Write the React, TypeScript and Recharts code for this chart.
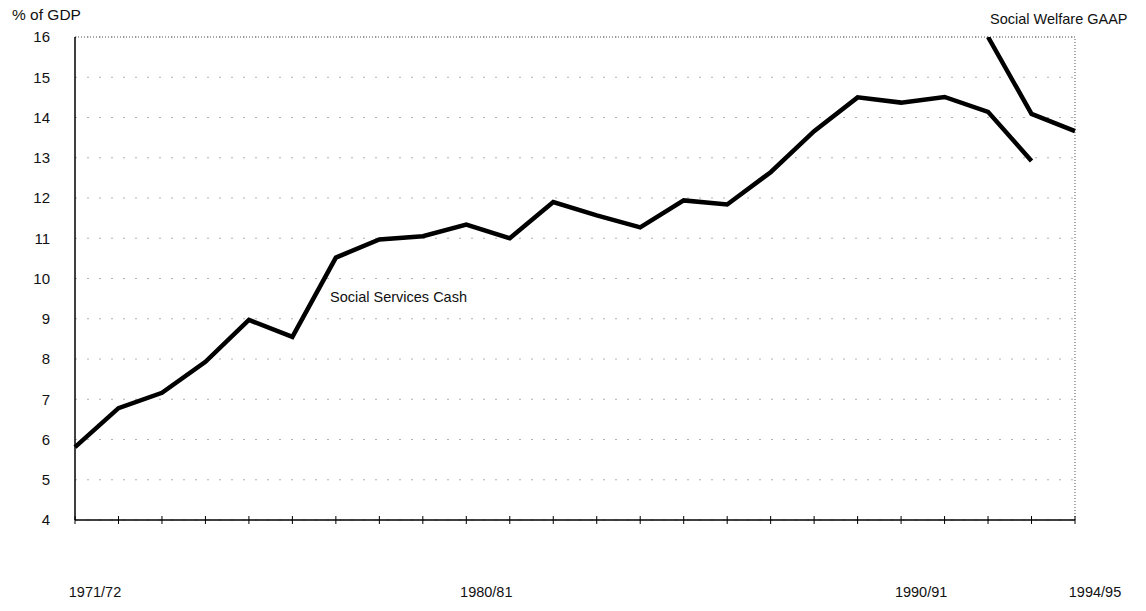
import React from 'react';
import { LineChart, Line, XAxis, YAxis, CartesianGrid, ReferenceLine } from 'recharts';

const years = [
  '1971/72', '1972/73', '1973/74', '1974/75', '1975/76', '1976/77', '1977/78', '1978/79',
  '1979/80', '1980/81', '1981/82', '1982/83', '1983/84', '1984/85', '1985/86', '1986/87',
  '1987/88', '1988/89', '1989/90', '1990/91', '1991/92', '1992/93', '1993/94', '1994/95',
];
const socialServicesCash: (number | null)[] = [
  5.81, 6.78, 7.16, 7.93, 8.97, 8.55, 10.52, 10.97, 11.05, 11.34, 11.0, 11.9,
  11.57, 11.27, 11.94, 11.84, 12.64, 13.66, 14.5, 14.37, 14.51, 14.14, 12.92, null,
];
const socialWelfareGAAP: (number | null)[] = [
  null, null, null, null, null, null, null, null, null, null, null, null,
  null, null, null, null, null, null, null, null, null, 16.0, 14.09, 13.66,
];
const yTicks = [4, 5, 6, 7, 8, 9, 10, 11, 12, 13, 14, 15, 16];
const labelledYears = ['1971/72', '1980/81', '1990/91', '1994/95'];

const data = years.map((y, i) => ({
  year: y,
  cash: socialServicesCash[i],
  gaap: socialWelfareGAAP[i],
}));

const FONT = '"Liberation Sans", Arial, sans-serif';

const XTick = (props: any) => {
  const { x, y, payload } = props;
  const show = labelledYears.includes(payload.value);
  return (
    <g>
      <line x1={x} x2={x} y1={y - 4} y2={y + 4} stroke="#000" strokeWidth={1} />
      {show && (
        <text x={x + 20} y={y + 77} textAnchor="middle" fontSize={14.5} fontFamily={FONT} fill="#111">
          {payload.value}
        </text>
      )}
    </g>
  );
};

export default function App() {
  return (
    <div style={{ position: 'absolute', left: 0, top: 0, width: 1146, height: 611, background: '#fff', fontFamily: FONT }}>
      <LineChart
        width={1146}
        height={611}
        data={data}
        margin={{ top: 37, right: 71, bottom: 31, left: 0 }}
      >
        <CartesianGrid vertical={false} horizontal={true} stroke="#b0b0b0" strokeDasharray="2 10" />
        <ReferenceLine y={16} stroke="#555" strokeDasharray="1 2" />
        <ReferenceLine x="1994/95" stroke="#555" strokeDasharray="1 2" />
        <XAxis
          dataKey="year"
          scale="point"
          padding={{ left: 0, right: 0 }}
          height={60}
          interval={0}
          tickLine={false}
          tickSize={0}
          tickMargin={0}
          axisLine={{ stroke: '#000', strokeWidth: 1.5 }}
          tick={<XTick />}
        />
        <YAxis
          width={75}
          domain={[4, 16]}
          ticks={yTicks}
          interval={0}
          allowDataOverflow
          tickLine={false}
          tickSize={0}
          tickMargin={25}
          axisLine={{ stroke: '#000', strokeWidth: 1.5 }}
          tick={{ fontSize: 15, fill: '#111', fontFamily: FONT }}
        />
        <Line
          type="linear"
          dataKey="cash"
          stroke="#000"
          strokeWidth={4.5}
          dot={false}
          connectNulls={false}
          isAnimationActive={false}
        />
        <Line
          type="linear"
          dataKey="gaap"
          stroke="#000"
          strokeWidth={4.5}
          dot={false}
          connectNulls={false}
          isAnimationActive={false}
        />
      </LineChart>
      <div style={{ position: 'absolute', left: 12, top: 6, fontSize: 15.5, color: '#111' }}>% of GDP</div>
      <div style={{ position: 'absolute', left: 990, top: 11, fontSize: 14.5, color: '#111', whiteSpace: 'nowrap' }}>Social Welfare GAAP</div>
      <div style={{ position: 'absolute', left: 330, top: 289, fontSize: 14.5, color: '#111', whiteSpace: 'nowrap' }}>Social Services Cash</div>
    </div>
  );
}
